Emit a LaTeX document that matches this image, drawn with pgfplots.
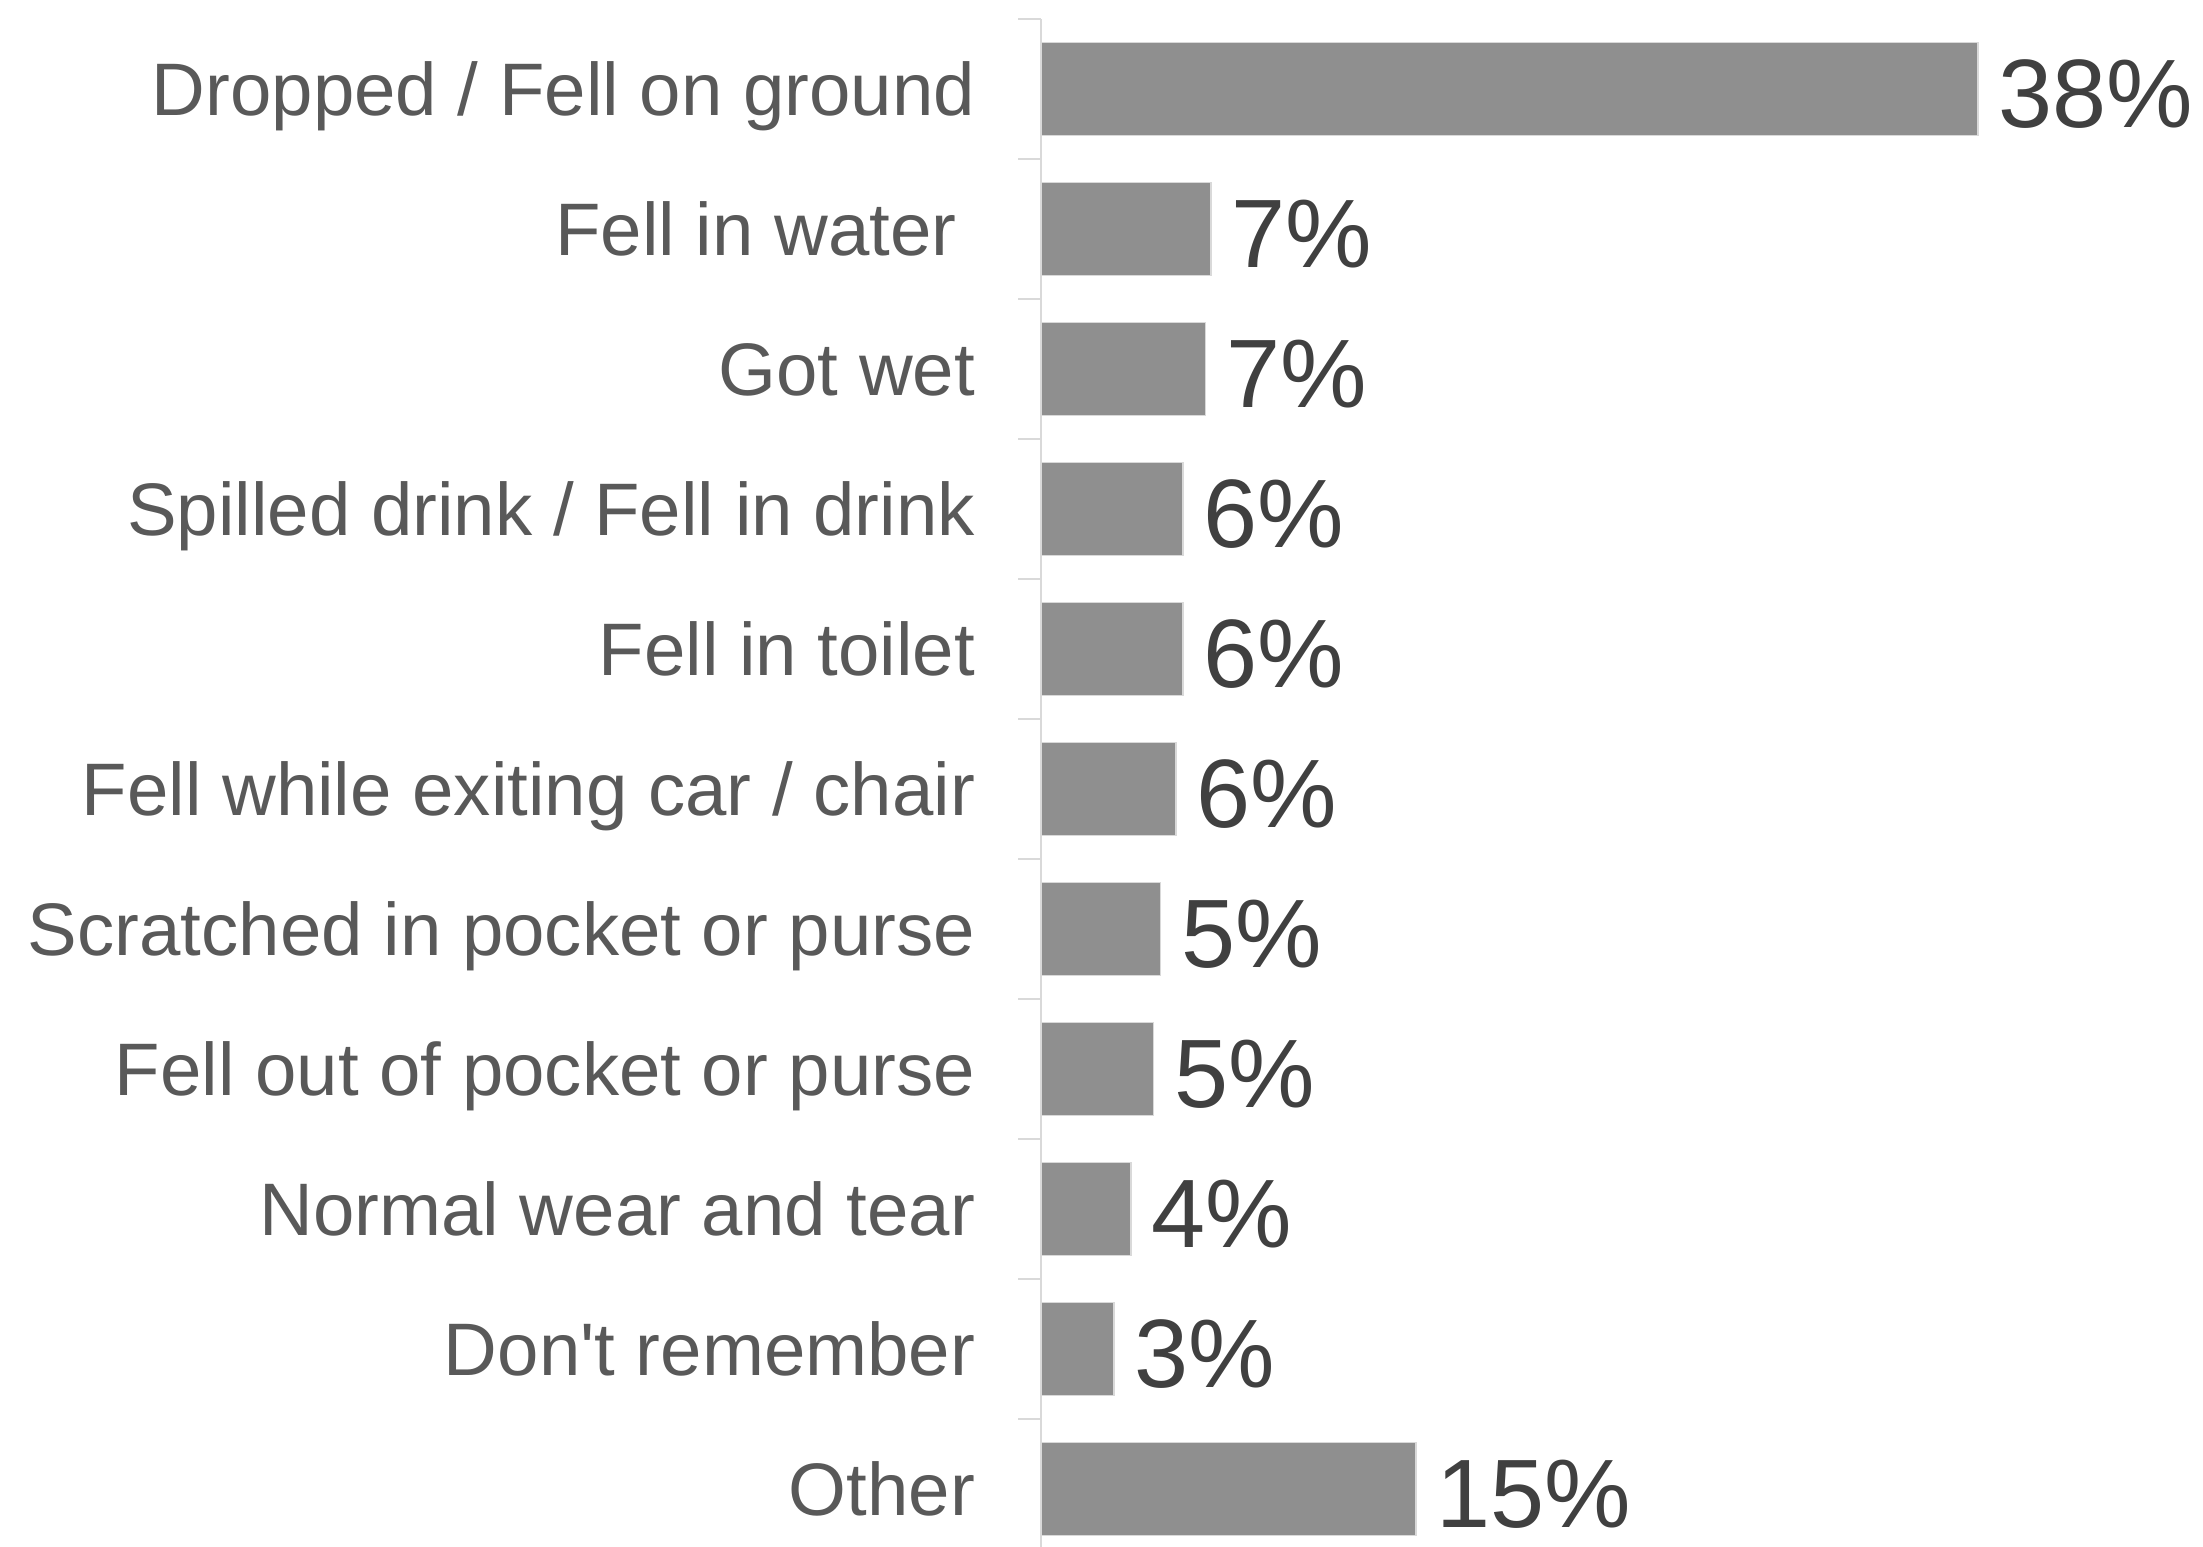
\documentclass[border=0pt]{standalone}
\usepackage{pgfplots}
\pgfplotsset{compat=1.18}
\usepackage{fontspec}
\setmainfont{Liberation Sans}
\definecolor{barc}{HTML}{8F8F8F}
\definecolor{axc}{HTML}{D9D9D9}
\definecolor{labc}{HTML}{595959}
\definecolor{valc}{HTML}{404040}
\begin{document}
\begin{tikzpicture}
\begin{axis}[
  at={(260.25pt,-3.25pt)}, anchor=south west,
  scale only axis, width=283.5pt, height=385pt,
  xmin=0, xmax=46, ymin=-0.5, ymax=10.5, y dir=reverse,
  axis x line=none, axis y line*=left,
  axis line style={draw=axc, line width=0.5pt},
  ytick={0,...,10},
  yticklabels={Dropped / Fell on ground, Fell in water\hspace*{4.6pt}, Got wet, Spilled drink / Fell in drink, Fell in toilet, Fell while exiting car / chair, Scratched in pocket or purse, Fell out of pocket or purse, Normal wear and tear, Don\textquotesingle t remember, Other},
  major tick length=0pt,
  minor ytick={-0.5,0.5,...,10.5},
  minor tick length=5.75pt,
  tick align=outside,
  minor tick style={draw=axc, line width=0.5pt},
  yticklabel style={font=\fontsize{18.6pt}{21pt}\selectfont, text=labc, anchor=base east, inner sep=0pt, xshift=-16.3pt, yshift=-6.6pt},
  clip=false,
]
\addplot[xbar, bar width=23.25pt, fill=barc, draw=axc, line width=0.4pt,
  point meta=explicit symbolic,
  nodes near coords={\pgfplotspointmeta\%},
  every node near coord/.append style={font=\fontsize{24.3pt}{28pt}\selectfont, text=valc, anchor=base west, inner sep=0pt, xshift=5pt, yshift=-9.5pt}]
  table[x=x, y=y, meta=lab] {
x y lab
38.0 0 38
6.9 1 7
6.67 2 7
5.75 3 6
5.75 4 6
5.47 5 6
4.84 6 5
4.56 7 5
3.65 8 4
2.96 9 3
15.2 10 15
};
\end{axis}
\pgfresetboundingbox
\useasboundingbox (0,0) rectangle (550.75pt,386.5pt);
\end{tikzpicture}
\end{document}
